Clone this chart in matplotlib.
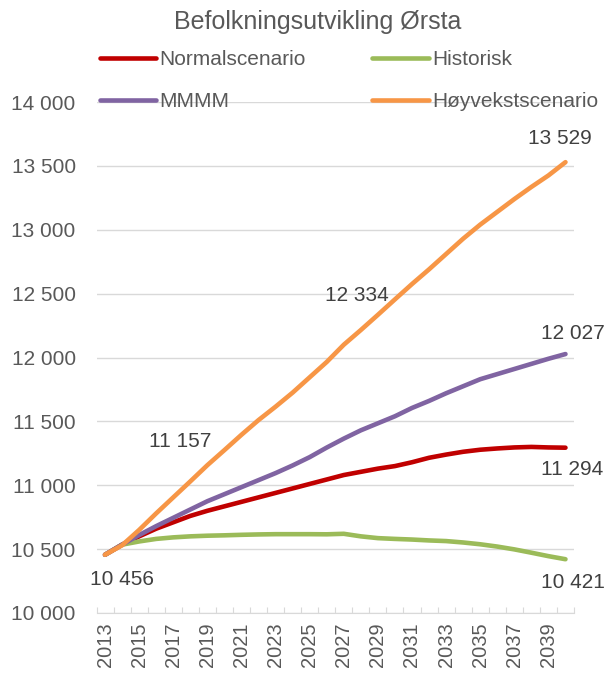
import matplotlib.pyplot as plt
from matplotlib.ticker import FuncFormatter

plt.rcParams['font.family'] = ['Liberation Sans', 'DejaVu Sans']

years = list(range(2013, 2041))

normal = [10456, 10535, 10600, 10660, 10710, 10760, 10800, 10835, 10870, 10905,
          10940, 10975, 11010, 11045, 11080, 11105, 11130, 11150, 11180, 11215,
          11240, 11262, 11278, 11288, 11296, 11300, 11296, 11294]
historisk = [10456, 10535, 10560, 10580, 10592, 10600, 10605, 10608, 10612, 10615,
             10617, 10617, 10617, 10616, 10620, 10600, 10586, 10580, 10575, 10568,
             10563, 10552, 10538, 10520, 10498, 10472, 10445, 10421]
mmmm = [10456, 10535, 10610, 10680, 10745, 10810, 10875, 10930, 10985, 11040,
        11095, 11155, 11220, 11295, 11365, 11430, 11485, 11540, 11605, 11660,
        11720, 11775, 11830, 11870, 11910, 11950, 11990, 12027]
hoyvekst = [10456, 10530, 10650, 10780, 10905, 11030, 11157, 11275, 11395, 11510,
            11615, 11725, 11845, 11965, 12100, 12215, 12334, 12455, 12575, 12690,
            12810, 12930, 13040, 13140, 13240, 13335, 13425, 13529]

TXT = '#595959'

fig = plt.figure(figsize=(6.06, 6.73), dpi=100)
ax = fig.add_axes([96.5 / 606, 1 - 613 / 673, 477.5 / 606, 511 / 673])

lw = 3.3
l_norm, = ax.plot(years, normal, color='#C00000', lw=lw, solid_capstyle='round', label='Normalscenario')
l_hist, = ax.plot(years, historisk, color='#9BBB59', lw=lw, solid_capstyle='round', label='Historisk')
l_mmmm, = ax.plot(years, mmmm, color='#8064A2', lw=lw, solid_capstyle='round', label='MMMM')
l_hoy, = ax.plot(years, hoyvekst, color='#F79646', lw=lw, solid_capstyle='round', label='Høyvekstscenario')

ax.set_xlim(2012.5, 2040.5)
ax.set_ylim(10000, 14000)
ax.set_yticks(range(10000, 14001, 500))
ax.yaxis.set_major_formatter(FuncFormatter(lambda v, p: f"{v:,.0f}".replace(",", " ")))
ax.grid(axis='y', color='#D9D9D9', lw=1)
ax.set_axisbelow(True)
for s in ['left', 'right', 'top']:
    ax.spines[s].set_visible(False)
ax.spines['bottom'].set_color('#D9D9D9')
ax.tick_params(axis='y', length=0, pad=15, labelsize=15, labelcolor=TXT)

# tick marks at category edges, labels at every second year
ax.set_xticks([y - 0.5 for y in years] + [2040.5])
ax.set_xticklabels([])
ax.tick_params(axis='x', which='major', direction='in', length=4, color='#D9D9D9')
ax.set_xticks(years[::2], minor=True)
ax.set_xticklabels([str(y) for y in years[::2]], minor=True, rotation=90)
ax.tick_params(axis='x', which='minor', length=0, pad=7, labelsize=14.5, labelcolor=TXT)

# data labels (offsets in pixels)
labels = [
    (2013, normal[0], (17, -25)),
    (2019, hoyvekst[6], (-27, 24)),
    (2029, hoyvekst[16], (-21, 19)),
    (2040, hoyvekst[-1], (-6, 24)),
    (2040, mmmm[-1], (7, 21)),
    (2040, normal[-1], (7, -22)),
    (2040, historisk[-1], (7, -23)),
]
for x, v, off in labels:
    ax.annotate(f"{v:,}".replace(",", " "), (x, v), xytext=off, textcoords='offset pixels',
                ha='center', va='center', fontsize=15, color='#404040')

fig.text(318 / 606, 1 - 22 / 673, 'Befolkningsutvikling Ørsta', ha='center', va='center',
         fontsize=18, color=TXT)

fig.legend(handles=[l_norm, l_mmmm, l_hist, l_hoy], ncol=2, frameon=False,
           loc='upper left', bbox_to_anchor=(100 / 606, 1 - 50 / 673),
           borderpad=0, borderaxespad=0, handlelength=2.7, handletextpad=0.15,
           columnspacing=3.2, labelspacing=1.1, fontsize=15, labelcolor=TXT)

fig.savefig('out.png', dpi=100)
